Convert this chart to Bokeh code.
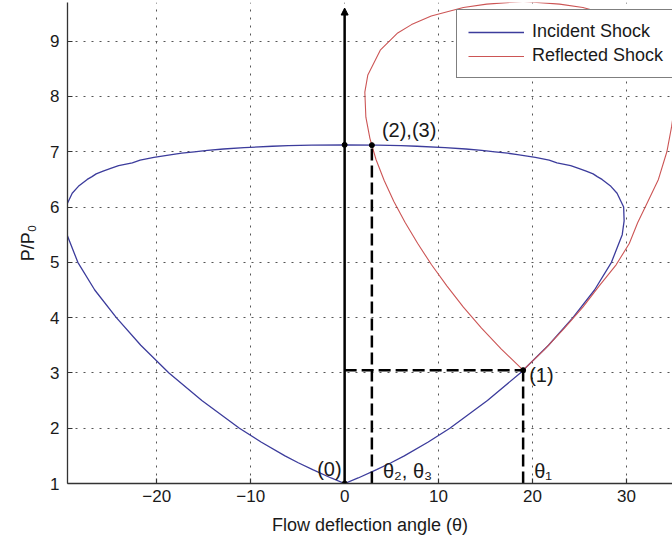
from bokeh.plotting import figure
from bokeh.models import Range1d, FixedTicker, Arrow, NormalHead
from bokeh.core.properties import value
from bokeh.embed import file_html
from bokeh.resources import INLINE

# Incident shock polar (upstream Mach 2.5): deflection angle [deg] vs P/P0
blue_theta = [0, 1.44, 3.4, 4.94, 6.35, 8.9, 11.2, 15.2, 18.7, 21.7, 24.3, 26.6, 28.4,
              29.55, 29.75, 29.7, 29.0, 28.34, 27.4, 26.89, 26.45, 25.71, 24.9, 24.06,
              22.6, 21.77, 20.3, 18.4, 17.34, 16.0, 14.6, 12.9, 10.69, 7.7, 6.0, 3.5, 0,
              -3.5, -6.0, -7.7, -10.69, -12.9, -14.6, -16.0, -17.34, -18.4, -20.3, -21.77,
              -22.6, -24.06, -24.9, -25.71, -26.45, -26.89, -27.4, -28.34, -29.0, -29.7,
              -29.75, -29.55, -28.4, -26.6, -24.3, -21.7, -18.7, -15.2, -11.2, -8.9,
              -6.35, -4.94, -3.4, -1.44, 0]
blue_p = [1.0, 1.1, 1.25, 1.375, 1.5, 1.75, 2.0, 2.5, 3.0, 3.5, 4.0, 4.5, 5.0,
          5.5, 5.75, 6.0, 6.25, 6.375, 6.5, 6.55, 6.6, 6.65, 6.7, 6.75,
          6.8, 6.85, 6.9, 6.95, 6.975, 7.0, 7.025, 7.05, 7.075, 7.1, 7.11, 7.12, 7.125,
          7.12, 7.11, 7.1, 7.075, 7.05, 7.025, 7.0, 6.975, 6.95, 6.9, 6.85,
          6.8, 6.75, 6.7, 6.65, 6.6, 6.55, 6.5, 6.375, 6.25, 6.0,
          5.75, 5.5, 5.0, 4.5, 4.0, 3.5, 3.0, 2.5, 2.0, 1.75,
          1.5, 1.375, 1.25, 1.1, 1.0]

# Reflected shock polar, starting from state (1)
red_theta = [19.0, 16.68, 14.57, 12.64, 10.88, 9.25, 7.78, 6.44, 5.24, 4.21, 3.34, 2.69,
             2.26, 2.15, 2.47, 3.82, 5.65, 7.12, 9.22, 12.64, 15.12, 19.0,
             22.88, 25.36, 28.7, 30.8, 32.2, 34.0, 35.2, 35.3, 35.1, 34.8, 34.3, 33.4,
             32.0, 31.2, 30.3, 28.9, 27.1, 25.36, 23.4, 21.32, 19.0]
red_p = [3.05, 3.43, 3.81, 4.19, 4.575, 4.956, 5.34, 5.72, 6.1, 6.48, 6.86, 7.244,
         7.625, 8.08, 8.39, 8.845, 9.15, 9.3, 9.455, 9.61, 9.67, 9.72,
         9.67, 9.61, 9.455, 9.3, 9.15, 8.85, 8.4, 8.1, 7.8, 7.45, 7.0, 6.5,
         6.0, 5.72, 5.34, 4.956, 4.575, 4.19, 3.81, 3.43, 3.05]

# Flow states
state0 = (0.0, 1.0)          # (0) free stream
state1 = (19.0, 3.05)        # (1) behind incident shock
state23 = (2.9, 7.12)        # (2),(3) polar intersection
normal_shock_p = 7.125       # incident normal-shock pressure ratio at theta = 0

x_ticks = [-20, -10, 0, 10, 20, 30]
y_ticks = [1, 2, 3, 4, 5, 6, 7, 8, 9]

FONT = "Liberation Sans"
INK = "#1a1a1a"
BLUE = "#3c3c9c"
RED = "#cc5555"

p = figure(width=672, height=545,
           x_range=Range1d(-29.5, 34.9), y_range=Range1d(1.0, 9.70),
           output_backend="svg", toolbar_location=None,
           min_border_left=67, min_border_right=0,
           min_border_top=2, min_border_bottom=62)
p.outline_line_color = None
p.background_fill_color = "white"
p.border_fill_color = "white"

# axes
for ax, ticks in ((p.xaxis, x_ticks), (p.yaxis, y_ticks)):
    ax.ticker = FixedTicker(ticks=ticks)
    ax.minor_tick_line_color = None
    ax.major_tick_in = 5
    ax.major_tick_out = 0
    ax.axis_line_color = "#333333"
    ax.axis_line_width = 1.3
    ax.major_tick_line_color = "#333333"
    ax.major_tick_line_width = 1.2
    ax.major_label_text_font = FONT
    ax.major_label_text_font_size = "17px"
    ax.major_label_text_color = INK
    ax.axis_label_text_font = FONT
    ax.axis_label_text_font_size = "18px"
    ax.axis_label_text_font_style = "normal"
    ax.axis_label_text_color = INK

p.xaxis.axis_label = "Flow deflection angle (θ)"
p.yaxis.axis_label = "P/P₀"
p.xaxis.major_label_standoff = 6
p.xaxis.axis_label_standoff = 10
p.yaxis.major_label_standoff = 8
p.yaxis.axis_label_standoff = 9

# dotted grid
p.xgrid.ticker = FixedTicker(ticks=x_ticks)
p.ygrid.ticker = FixedTicker(ticks=y_ticks)
for g in (p.xgrid, p.ygrid):
    g.grid_line_color = "#555555"
    g.grid_line_width = 1
    g.grid_line_dash = "2 6"

# shock polars
p.line(blue_theta, blue_p, line_color=BLUE, line_width=1.3, legend_label="Incident Shock")
p.line(red_theta, red_p, line_color=RED, line_width=1.1, legend_label="Reflected Shock")

# construction lines to the flow states
dash = dict(line_color="black", line_width=2.5, line_dash="12 5")
p.line([state0[0], state1[0]], [state1[1], state1[1]], **dash)
p.line([state1[0], state1[0]], [state0[1], state1[1]], **dash)
p.line([state23[0], state23[0]], [state0[1], state23[1]], **dash)

# vertical reference axis with arrow
p.add_layout(Arrow(end=NormalHead(size=7, fill_color="black", line_color="black"),
                   x_start=state0[0], y_start=state0[1],
                   x_end=state0[0], y_end=p.y_range.end - 0.1,
                   line_color="black", line_width=2.5))

p.scatter([state0[0], state1[0], state23[0], state0[0]],
          [state0[1], state1[1], state23[1], normal_shock_p],
          size=5, color="black")

# state labels
txt = dict(text_font=value(FONT), text_font_size="20px", text_color=INK)
p.text(x=[state0[0]], y=[state0[1]], text=["(0)"], text_align="right",
       text_baseline="bottom", x_offset=-3, y_offset=-4, **txt)
p.text(x=[state1[0]], y=[state1[1]], text=["(1)"], text_align="left",
       text_baseline="middle", x_offset=6, y_offset=5, **txt)
p.text(x=[state23[0]], y=[state23[1]], text=["(2),(3)"], text_align="left",
       text_baseline="bottom", x_offset=10, y_offset=-4, **txt)
p.text(x=[state23[0]], y=[state0[1]], text=["θ₂, θ₃"], text_align="left",
       text_baseline="bottom", x_offset=11, y_offset=-2, **txt)
p.text(x=[state1[0]], y=[state0[1]], text=["θ₁"], text_align="left",
       text_baseline="bottom", x_offset=11, y_offset=-2, **txt)

# legend (runs off the right edge of the canvas)
leg = p.legend[0]
leg.location = (389, 405)
leg.margin = 0
leg.padding = 11
leg.spacing = 3
leg.glyph_width = 56
leg.glyph_height = 20
leg.label_height = 20
leg.label_standoff = 8
leg.border_line_color = "black"
leg.border_line_width = 1
leg.background_fill_color = "white"
leg.background_fill_alpha = 1
leg.label_text_font = FONT
leg.label_text_font_size = "18px"
leg.label_text_color = INK

open("out.html", "w").write(file_html(p, INLINE))
